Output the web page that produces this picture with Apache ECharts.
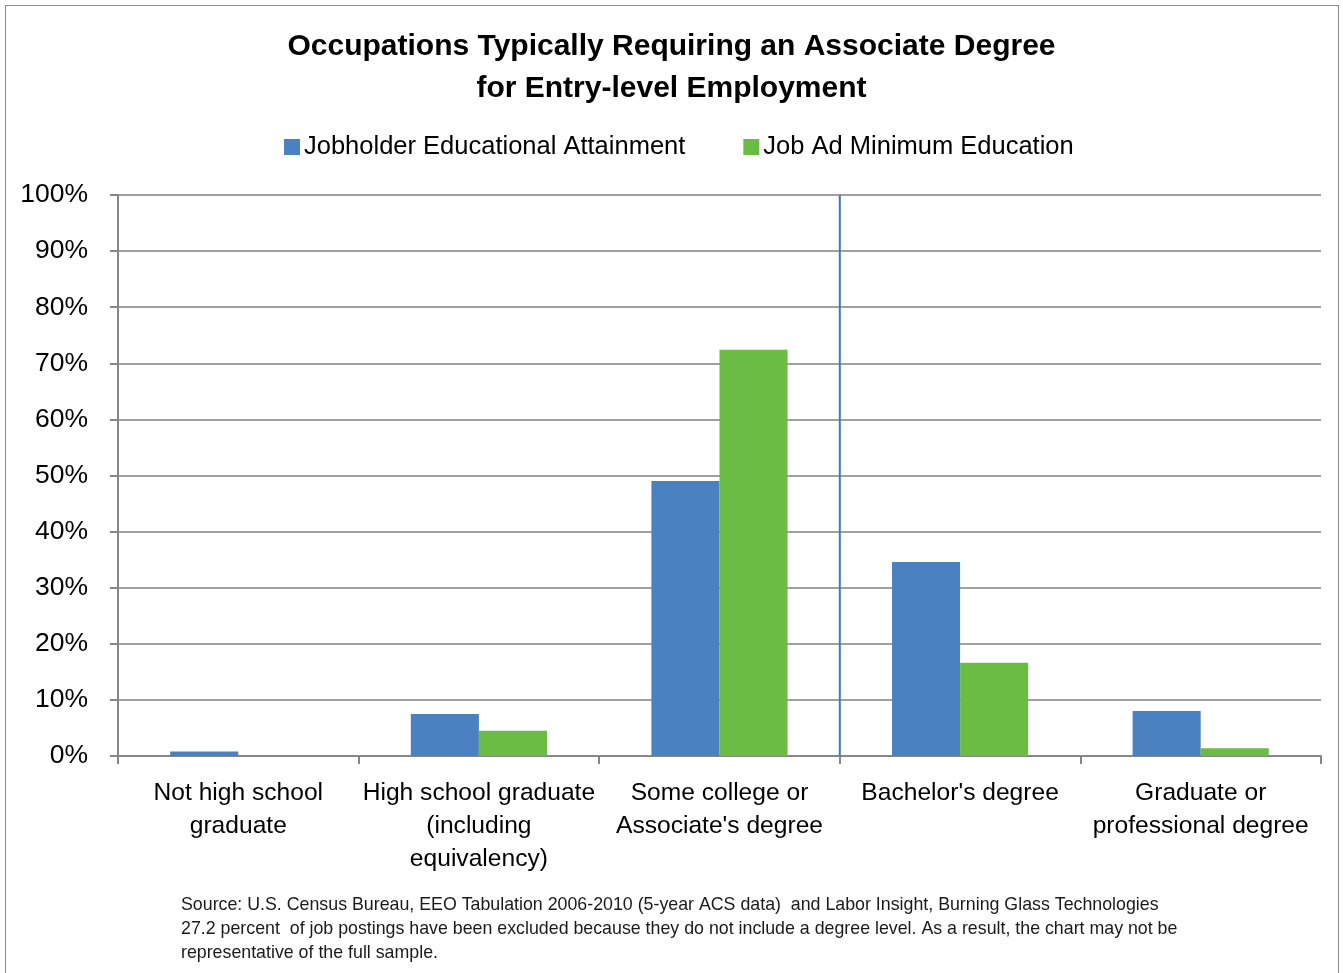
<!DOCTYPE html>
<html>
<head>
<meta charset="utf-8">
<script src="https://cdn.jsdelivr.net/npm/echarts@6/dist/echarts.min.js"></script>
<style>
  html, body { margin: 0; padding: 0; background: #fff; }
  #frame {
    position: absolute; left: 5px; top: 5px; width: 1334px; height: 980px;
    border: 1px solid #8a8a8a; box-sizing: border-box;
  }
  #chart { position: absolute; left: 0; top: 0; width: 1343px; height: 973px; }
</style>
</head>
<body>
<div id="frame"></div>
<div id="chart"></div>
<script>
const categories = [
  'Not high school\ngraduate',
  'High school graduate\n(including\nequivalency)',
  'Some college or\nAssociate\'s degree',
  'Bachelor\'s degree',
  'Graduate or\nprofessional degree'
]
const seriesNames = ['Jobholder Educational Attainment', 'Job Ad Minimum Education']
const jobholder = [0.8, 7.5, 49.0, 34.6, 8.0]
const jobAd = [0, 4.5, 72.4, 16.6, 1.4]
// divider sits on the boundary after the third category
const dividerAt = 3

const FONT = '"Liberation Sans", Arial, sans-serif'
const BLUE = '#4a81c0'
const GREEN = '#6bbc44'

const chart = echarts.init(document.getElementById('chart'))
chart.setOption({
  backgroundColor: 'transparent',
  animation: false,
  textStyle: { fontFamily: FONT, color: '#000' },
  title: [
    {
      text: 'Occupations Typically Requiring an Associate Degree\nfor Entry-level Employment',
      left: 'center',
      top: 21,
      textStyle: { fontSize: 30, fontWeight: 'bold', color: '#000', lineHeight: 42, fontFamily: FONT }
    },
    {
      text: 'Source: U.S. Census Bureau, EEO Tabulation 2006-2010 (5-year ACS data)  and Labor Insight, Burning Glass Technologies\n27.2 percent  of job postings have been excluded because they do not include a degree level. As a result, the chart may not be\nrepresentative of the full sample.',
      left: 176,
      top: 888,
      textStyle: { fontSize: 17.8, fontWeight: 'normal', color: '#1a1a1a', lineHeight: 24, fontFamily: FONT }
    }
  ],
  legend: {
    data: seriesNames,
    top: 129,
    left: 279,
    itemWidth: 16,
    itemHeight: 16,
    itemGap: 58,
    icon: 'rect',
    textStyle: { fontSize: 25.5, color: '#000', padding: [0, 0, 0, -1] }
  },
  grid: { left: 118, right: 22, top: 195, bottom: 217 },
  xAxis: [
    {
      type: 'category',
      data: categories,
      axisLine: { lineStyle: { color: '#868686', width: 2 } },
      axisTick: { show: true, length: 8, lineStyle: { color: '#868686', width: 2 } },
      axisLabel: { fontSize: 24.6, color: '#000', lineHeight: 33, margin: 21, interval: 0 }
    },
    {
      type: 'value',
      min: 0,
      max: categories.length,
      show: false
    }
  ],
  yAxis: {
    type: 'value',
    min: 0,
    max: 100,
    interval: 10,
    axisLine: { show: true, lineStyle: { color: '#868686', width: 2 } },
    axisTick: { show: true, length: 8, lineStyle: { color: '#868686', width: 2 } },
    axisLabel: { formatter: '{value}%', fontSize: 26.5, color: '#000', margin: 30 },
    splitLine: { lineStyle: { color: '#a0a0a0', width: 2 } }
  },
  series: [
    {
      name: seriesNames[0],
      type: 'bar',
      data: jobholder,
      barWidth: '28.3%',
      barGap: '0%',
      itemStyle: { color: BLUE }
    },
    {
      name: seriesNames[1],
      type: 'bar',
      data: jobAd,
      barWidth: '28.3%',
      barGap: '0%',
      itemStyle: { color: GREEN }
    },
    {
      type: 'line',
      xAxisIndex: 1,
      data: [[dividerAt, 0], [dividerAt, 100]],
      showSymbol: false,
      silent: true,
      lineStyle: { color: '#3d78bd', width: 2 },
      z: 3
    }
  ]
})
</script>
</body>
</html>
